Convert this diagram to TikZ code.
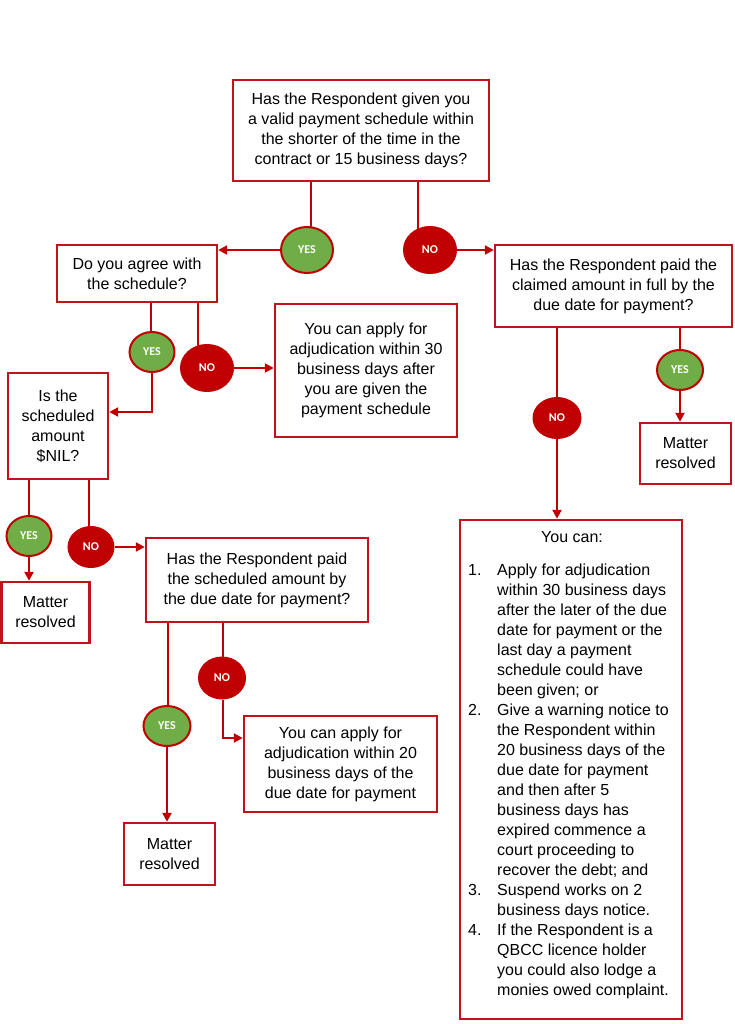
\documentclass[tikz,border=0pt]{standalone}
\usepackage{fontspec}
\setmainfont{Liberation Sans}
\newfontfamily\lblfont{Carlito}
\usetikzlibrary{arrows.meta,shapes.geometric,backgrounds}
\definecolor{fcred}{RGB}{192,0,0}
\definecolor{fcbox}{RGB}{196,18,28}
\definecolor{fcgreen}{RGB}{112,173,71}
\begin{document}
\begin{tikzpicture}[x=1pt,y=-1pt,
  box/.style={draw=fcbox, line width=2.4pt, rectangle, align=center, inner sep=2pt,
    font=\fontsize{16}{20}\selectfont},
  yesc/.style={ellipse, draw=fcred, line width=2pt, fill=fcgreen, text=white,
    font=\lblfont\bfseries\fontsize{12}{14}\selectfont, inner sep=0pt},
  noc/.style={ellipse, draw=fcred, line width=1pt, fill=fcred, text=white,
    font=\lblfont\bfseries\fontsize{12}{14}\selectfont, inner sep=0pt},
  conn/.style={draw=fcred, line width=2.2pt},
  arr/.style={conn, -{Triangle[length=9pt,width=9pt]}}
]
\useasboundingbox (0,0) rectangle (735,1024);

% boxes
\node[box, minimum width=256pt, minimum height=101pt] (q1) at (361,130.5)
  {Has the Respondent given you\\a valid payment schedule within\\the shorter of the time in the\\contract or 15 business days?};
\node[box, minimum width=160pt, minimum height=57pt] (agree) at (137,273.5)
  {Do you agree with\\the schedule?};
\node[box, minimum width=237pt, minimum height=82pt] (q2) at (613.5,286)
  {Has the Respondent paid the\\claimed amount in full by the\\due date for payment?};
\node[box, minimum width=182pt, minimum height=133pt] (apply30) at (366,370.5)
  {You can apply for\\adjudication within 30\\business days after\\you are given the\\payment schedule};
\node[box, minimum width=91pt, minimum height=61pt] (mr1) at (685.5,453.5)
  {Matter\\resolved};
\node[box, minimum width=100pt, minimum height=106pt] (nil) at (58,426)
  {Is the\\scheduled\\amount\\\$NIL?};
\node[box, minimum width=88pt, minimum height=61pt] (mr2) at (45.5,612.5)
  {Matter\\resolved};
\node[box, minimum width=222pt, minimum height=84pt] (q3) at (257,580)
  {Has the Respondent paid\\the scheduled amount by\\the due date for payment?};
\node[box, minimum width=193pt, minimum height=96pt] (apply20) at (340.5,764)
  {You can apply for\\adjudication within 20\\business days of the\\due date for payment};
\node[box, minimum width=91pt, minimum height=62pt] (mr3) at (169.5,854)
  {Matter\\resolved};
\node[box, minimum width=222pt, minimum height=499pt] (big) at (571,769.5) {};
\node[font=\fontsize{16}{20}\selectfont, inner sep=0pt] (youcan) at (572,537) {You can:};
\node[font=\fontsize{16}{20}\selectfont, inner sep=0pt, anchor=north west] (list) at (468,561.5)
  {\begin{tabular}{@{}p{29pt}@{}l@{}}
   1. & Apply for adjudication\\
      & within 30 business days\\
      & after the later of the due\\
      & date for payment or the\\
      & last day a payment\\
      & schedule could have\\
      & been given; or\\
   2. & Give a warning notice to\\
      & the Respondent within\\
      & 20 business days of the\\
      & due date for payment\\
      & and then after 5\\
      & business days has\\
      & expired commence a\\
      & court proceeding to\\
      & recover the debt; and\\
   3. & Suspend works on 2\\
      & business days notice.\\
   4. & If the Respondent is a\\
      & QBCC licence holder\\
      & you could also lodge a\\
      & monies owed complaint.
   \end{tabular}};

% circles
\node[yesc, minimum width=52pt, minimum height=46pt] (yes1) at (307,250) {YES};
\node[noc, minimum width=53pt, minimum height=47pt] (no1) at (430,250) {NO};
\node[yesc, minimum width=46pt, minimum height=40pt] (yesC) at (680,370) {YES};
\node[noc, minimum width=48pt, minimum height=41pt] (noC) at (557,418) {NO};
\node[yesc, minimum width=45pt, minimum height=40pt] (yes2) at (152,352) {YES};
\node[noc, minimum width=53pt, minimum height=47pt] (no2) at (207,368) {NO};
\node[yesc, minimum width=45pt, minimum height=40pt] (yes3) at (29,536) {YES};
\node[noc, minimum width=46pt, minimum height=41pt] (no3) at (91,547) {NO};
\node[yesc, minimum width=47pt, minimum height=40pt] (yes4) at (167,726) {YES};
\node[noc, minimum width=47pt, minimum height=42pt] (no4) at (222,678) {NO};

% stems into circles
\begin{scope}[on background layer]
\draw[conn] ([xshift=4pt]yes1.center |- q1.south) -- ([xshift=4pt]yes1.center);
\draw[conn] ([xshift=-12pt]no1.center |- q1.south) -- ([xshift=-12pt]no1.center);
\draw[conn] (noC.center |- q2.south) -- (noC.center);
\draw[conn] (yesC.center |- q2.south) -- (yesC.center);
\draw[conn] ([xshift=-1pt]yes2.center |- agree.south) -- ([xshift=-1pt]yes2.center);
\draw[conn] ([xshift=-9pt]no2.center |- agree.south) -- ([xshift=-9pt]no2.center);
\draw[conn] (yes3.center |- nil.south) -- (yes3.center);
\draw[conn] ([xshift=-2pt]no3.center |- nil.south) -- ([xshift=-2pt]no3.center);
\draw[conn] ([xshift=1pt]yes4.center |- q3.south) -- ([xshift=1pt]yes4.center);
\draw[conn] ([xshift=1pt]no4.center |- q3.south) -- ([xshift=1pt]no4.center);
\end{scope}

% arrows out of circles
\draw[arr] (yes1.west) -- (yes1.west -| agree.east);
\draw[arr] (no1.east) -- (no1.east -| q2.west);
\draw[arr] (noC.south) -- (noC.south |- big.north);
\draw[arr] (yesC.south) -- (yesC.south |- mr1.north);
\draw[arr] (yes2.south) |- ([yshift=14pt]nil.east);
\draw[arr] (no2.east) -- (no2.east -| apply30.west);
\draw[arr] (yes3.south) -- (yes3.south |- mr2.north);
\draw[arr] (no3.east) -- (no3.east -| q3.west);
\draw[arr] (yes4.south) -- (yes4.south |- mr3.north);
\draw[arr] ([xshift=1pt]no4.south) |- ([yshift=26pt]apply20.west);
\end{tikzpicture}
\end{document}
